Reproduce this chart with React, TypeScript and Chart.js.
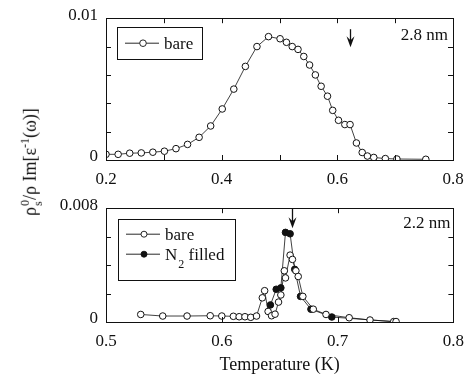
import React, { useEffect, useRef } from 'react';
import { Chart, registerables } from 'chart.js';
Chart.register(...registerables);

// ---- data ----
const topTemps = [0.200, 0.221, 0.241, 0.261, 0.281, 0.301, 0.321, 0.341, 0.361, 0.381, 0.401, 0.421, 0.441, 0.461, 0.481, 0.501, 0.512, 0.522, 0.532, 0.542, 0.552, 0.562, 0.572, 0.583, 0.592, 0.602, 0.613, 0.622, 0.633, 0.643, 0.652, 0.663, 0.683, 0.703, 0.753];
const topBare = [0.0004, 0.0004, 0.00048, 0.0005, 0.00055, 0.00062, 0.0008, 0.0011, 0.0016, 0.0024, 0.0036, 0.005, 0.0066, 0.008, 0.0087, 0.00855, 0.0083, 0.008, 0.0078, 0.0073, 0.0067, 0.006, 0.0052, 0.0045, 0.0035, 0.0028, 0.0025, 0.0025, 0.0012, 0.00053, 0.00028, 0.00018, 0.0001, 0.00007, 0.00005];

const botBareTemps = [0.530, 0.549, 0.570, 0.590, 0.600, 0.610, 0.615, 0.620, 0.625, 0.630, 0.635, 0.637, 0.640, 0.643, 0.646, 0.649, 0.651, 0.654, 0.655, 0.659, 0.661, 0.664, 0.666, 0.670, 0.679, 0.690, 0.710, 0.728, 0.7485, 0.7505];
const botBare = [0.00053, 0.00042, 0.00042, 0.00044, 0.00042, 0.0004, 0.00037, 0.00037, 0.00033, 0.00042, 0.0017, 0.0022, 0.00074, 0.00044, 0.00055, 0.0014, 0.0019, 0.0036, 0.0031, 0.0047, 0.0044, 0.0036, 0.0032, 0.0018, 0.0009, 0.00053, 0.0003, 0.00014, 0.00003, 0.00003];

const botN2Temps = [0.642, 0.647, 0.651, 0.655, 0.659, 0.663, 0.668, 0.677, 0.695, 0.7495];
const botN2 = [0.0012, 0.0023, 0.0024, 0.0063, 0.0062, 0.0037, 0.0018, 0.0009, 0.00035, 0.00002];

const topXTickLabels = ['0.2', '0.4', '0.6', '0.8'];
const topYTickLabels = ['0', '0.01'];
const botXTickLabels = ['0.5', '0.6', '0.7', '0.8'];
const botYTickLabels = ['0', '0.008'];

const topArrowT = 0.622;
const botArrowT = 0.661;
const topSizeLabel = '2.8 nm';
const botSizeLabel = '2.2 nm';
const seriesNames = ['bare', 'N2 filled'];

const FONT = "'Liberation Serif', 'Times New Roman', serif";
const INK = '#111';

const pts = (xs: number[], ys: number[]) => xs.map((x, i) => ({ x, y: ys[i] }));
const labelCb = (labels: string[]) => (v: number) => {
  const hit = labels.find((l) => Math.abs(parseFloat(l) - v) < 1e-9);
  return hit === undefined ? '' : hit;
};

const framePlugin = {
  id: 'frame',
  afterDraw(chart: any, _args: any, opts: any) {
    const { ctx, chartArea: a, scales } = chart;
    ctx.save();
    ctx.strokeStyle = INK;
    ctx.lineWidth = 1;
    const L = 5;
    const line = (x1: number, y1: number, x2: number, y2: number) => {
      ctx.beginPath();
      ctx.moveTo(x1, y1);
      ctx.lineTo(x2, y2);
      ctx.stroke();
    };
    ctx.strokeRect(Math.round(a.left) + 0.5, Math.round(a.top) + 0.5, Math.round(a.width), Math.round(a.height));
    scales.x.ticks.forEach((t: any) => {
      const px = Math.round(scales.x.getPixelForValue(t.value)) + 0.5;
      line(px, a.bottom, px, a.bottom - L);
      line(px, a.top, px, a.top + L);
    });
    scales.y.ticks.forEach((t: any) => {
      const py = Math.round(scales.y.getPixelForValue(t.value)) + 0.5;
      line(a.left, py, a.left + L, py);
      line(a.right, py, a.right - L, py);
    });

    // arrow
    const ax = Math.round(scales.x.getPixelForValue(opts.arrowT)) + 0.5;
    const y0 = a.top + opts.arrowTop;
    const y1 = a.top + opts.arrowBottom;
    ctx.lineWidth = 1.3;
    line(ax, y0, ax, y1 - 4);
    ctx.fillStyle = INK;
    ctx.beginPath();
    ctx.moveTo(ax, y1);
    ctx.lineTo(ax - 4, y1 - 11);
    ctx.lineTo(ax, y1 - 7);
    ctx.lineTo(ax + 4, y1 - 11);
    ctx.closePath();
    ctx.fill();

    // size label
    ctx.font = `17px ${FONT}`;
    ctx.fillStyle = INK;
    ctx.textAlign = 'right';
    ctx.textBaseline = 'alphabetic';
    ctx.fillText(opts.sizeLabel, a.right - opts.sizeDx, a.top + opts.sizeDy);

    // legend
    const lg = opts.legend;
    ctx.lineWidth = 1;
    ctx.strokeStyle = INK;
    ctx.strokeRect(Math.round(a.left + lg.x) + 0.5, Math.round(a.top + lg.y) + 0.5, lg.w, lg.h);
    lg.items.forEach((it: any, i: number) => {
      const cy = a.top + lg.y + lg.firstRow + i * lg.rowGap;
      const lx = a.left + lg.x + 8;
      ctx.lineWidth = 0.9;
      line(lx, cy, lx + 34, cy);
      ctx.beginPath();
      ctx.arc(lx + 18, cy, lg.r, 0, Math.PI * 2);
      ctx.fillStyle = it.filled ? INK : '#fff';
      ctx.fill();
      ctx.stroke();
      ctx.fillStyle = INK;
      ctx.textAlign = 'left';
      ctx.textBaseline = 'middle';
      ctx.font = `17px ${FONT}`;
      const tx = lx + 39;
      const m = /^([A-Za-z]+)(\d)(.*)$/.exec(it.label);
      if (m) {
        ctx.fillText(m[1], tx, cy + 1);
        const w1 = ctx.measureText(m[1]).width;
        ctx.font = `12px ${FONT}`;
        ctx.fillText(m[2], tx + w1 + 1, cy + 11);
        const w2 = ctx.measureText(m[2]).width;
        ctx.font = `17px ${FONT}`;
        ctx.fillText(m[3], tx + w1 + w2 + 1, cy + 1);
      } else {
        ctx.fillText(it.label, tx, cy + 1);
      }
    });
    ctx.restore();
  },
};

function makeConfig(p: any): any {
  return {
    type: 'scatter',
    data: { datasets: p.datasets },
    plugins: [framePlugin],
    options: {
      responsive: false,
      animation: false,
      events: [],
      layout: { padding: p.padding },
      plugins: { legend: { display: false }, tooltip: { enabled: false }, frame: p.frame },
      scales: {
        x: {
          type: 'linear',
          min: p.xMin,
          max: p.xMax,
          grid: { display: false, drawTicks: false },
          border: { display: false },
          ticks: { stepSize: 0.1, callback: labelCb(p.xLabels), font: { family: FONT, size: 17 }, color: INK, padding: 9, maxRotation: 0, autoSkip: false },
          title: p.xTitle
            ? { display: true, text: p.xTitle, font: { family: FONT, size: 18 }, color: INK, padding: { top: 0, bottom: 8 } }
            : { display: false },
          afterFit: (s: any) => { s.height = p.xAxisH; },
        },
        y: {
          type: 'linear',
          min: 0,
          max: p.yMax,
          grid: { display: false, drawTicks: false },
          border: { display: false },
          ticks: { stepSize: 0.002, callback: labelCb(p.yLabels), font: { family: FONT, size: 17 }, color: INK, padding: 8, labelOffset: -3, autoSkip: false },
          afterFit: (s: any) => { s.width = 106; },
        },
      },
    },
  };
}

const openStyle = { showLine: true, borderColor: INK, borderWidth: 0.8, pointRadius: 3.3, pointBackgroundColor: '#fff', pointBorderColor: INK, pointBorderWidth: 1 };
const filledStyle = { showLine: true, borderColor: INK, borderWidth: 0.8, pointRadius: 3.3, pointBackgroundColor: INK, pointBorderColor: INK, pointBorderWidth: 1 };

export default function App() {
  const topRef = useRef<HTMLCanvasElement>(null);
  const botRef = useRef<HTMLCanvasElement>(null);

  useEffect(() => {
    const top = new Chart(topRef.current as HTMLCanvasElement, makeConfig({
      datasets: [{ label: seriesNames[0], data: pts(topTemps, topBare), ...openStyle }],
      padding: { left: 0, right: 20, top: 16, bottom: 0 },
      xMin: 0.2, xMax: 0.8, yMax: 0.01, xLabels: topXTickLabels, yLabels: topYTickLabels,
      xAxisH: 30,
      frame: {
        arrowT: topArrowT, arrowTop: 11, arrowBottom: 29,
        sizeLabel: topSizeLabel, sizeDx: 5, sizeDy: 22,
        legend: { x: 11, y: 9, w: 85, h: 32, firstRow: 16, rowGap: 20, r: 3.3, items: [{ label: seriesNames[0], filled: false }] },
      },
    }));
    const bot = new Chart(botRef.current as HTMLCanvasElement, makeConfig({
      datasets: [
        { label: seriesNames[0], data: pts(botBareTemps, botBare), ...openStyle },
        { label: seriesNames[1], data: pts(botN2Temps, botN2), ...filledStyle },
      ],
      padding: { left: 0, right: 19, top: 17, bottom: 0 },
      xMin: 0.5, xMax: 0.8, yMax: 0.008, xLabels: botXTickLabels, yLabels: botYTickLabels,
      xAxisH: 62, xTitle: 'Temperature (K)',
      frame: {
        arrowT: botArrowT, arrowTop: 0, arrowBottom: 20,
        sizeLabel: botSizeLabel, sizeDx: 3, sizeDy: 20,
        legend: { x: 12, y: 11, w: 117, h: 61, firstRow: 15, rowGap: 20, r: 3, items: [{ label: seriesNames[0], filled: false }, { label: seriesNames[1], filled: true }] },
      },
    }));
    return () => { top.destroy(); bot.destroy(); };
  }, []);

  return (
    <div style={{ position: 'absolute', left: 0, top: 0, width: 473, height: 384, background: '#fff', overflow: 'hidden' }}>
      <canvas ref={topRef} width={473} height={190} style={{ position: 'absolute', left: 0, top: 0 }} />
      <canvas ref={botRef} width={473} height={194} style={{ position: 'absolute', left: 0, top: 190 }} />
      <div
        style={{
          position: 'absolute', left: 32, top: 162, transform: 'translate(-50%, -50%) rotate(-90deg)',
          whiteSpace: 'nowrap', fontFamily: FONT, fontSize: 18, color: INK, lineHeight: 1,
        }}
      >
        ρ
        <span style={{ display: 'inline-block', verticalAlign: 'middle', fontSize: 12, lineHeight: 1.1, textAlign: 'left', marginLeft: 1 }}>
          <span style={{ display: 'block' }}>0</span>
          <span style={{ display: 'block' }}>s</span>
        </span>
        /ρ Im[ε<sup style={{ fontSize: 12, verticalAlign: '0.6em' }}>-1</sup>(ω)]
      </div>
    </div>
  );
}
